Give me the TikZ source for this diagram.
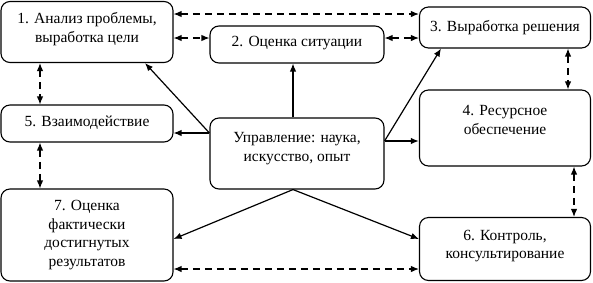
\documentclass[tikz,border=0pt]{standalone}
\usepackage{fontspec}
\setmainfont{Liberation Serif}
\usetikzlibrary{arrows.meta}
\begin{document}
\begin{tikzpicture}[x=1pt,y=-1pt,
  box/.style={draw, line width=1.1pt, rounded corners=9pt, inner sep=0pt},
  txt/.style={inner sep=0pt, align=center, font=\fontsize{15.5}{18.5}\selectfont},
  solidarr/.style={line width=1.2pt, -{Latex[length=8pt,width=6.5pt]}},
  dasharr/.style={line width=1.2pt, dash pattern=on 7pt off 5pt, {Latex[length=8pt,width=6.5pt]}-{Latex[length=8pt,width=6.5pt]}}]
\useasboundingbox (0,0) rectangle (593,282);
\node[box, minimum width=172pt, minimum height=61pt] (b1) at (87,32) {};
\node[txt] (t1) at ([yshift=3pt]b1.center) {1. Анализ проблемы,\\выработка цели};
\node[box, minimum width=174pt, minimum height=37pt] (b2) at (297,44.5) {};
\node[txt] (t2) at ([yshift=1pt]b2.center) {2. Оценка ситуации};
\node[box, minimum width=171pt, minimum height=41pt] (b3) at (505,27.5) {};
\node[txt] (t3) at (b3.center) {3. Выработка решения};
\node[box, minimum width=171pt, minimum height=76pt] (b4) at (505,128) {};
\node[txt] (t4) at ([yshift=8pt]b4.center) {4. Ресурсное\\обеспечение};
\node[box, minimum width=172pt, minimum height=37pt] (b5) at (87,123.5) {};
\node[txt] (t5) at ([yshift=1pt]b5.center) {5. Взаимодействие};
\node[box, minimum width=174pt, minimum height=71pt] (c) at (297,153.5) {};
\node[txt] (tc) at ([yshift=5pt]c.center) {Управление: наука,\\искусство, опыт};
\node[box, minimum width=172pt, minimum height=92pt] (b7) at (87,235) {};
\node[txt] (t7) at (b7.center) {7. Оценка\\фактически\\достигнутых\\результатов};
\node[box, minimum width=171pt, minimum height=63pt] (b6) at (505,249) {};
\node[txt] (t6) at ([yshift=3pt]b6.center) {6. Контроль,\\консультирование};
% dashed links
\draw[dasharr] (b1.east |- 0,14) -- (b3.west |- 0,14);
\draw[dasharr] (b1.east |- 0,38) -- (b2.west |- 0,38);
\draw[dasharr] (b2.east |- 0,38) -- (b3.west |- 0,38);
\draw[dasharr] (b1.south -| 40,0) -- (b5.north -| 40,0);
\draw[dasharr] (b5.south -| 40,0) -- (b7.north -| 40,0);
\draw[dasharr] (b3.south -| 568,0) -- (b4.north -| 568,0);
\draw[dasharr] (b4.south -| 574,0) -- (b6.north -| 574,0);
\draw[dasharr] (b7.east |- 0,269) -- (b6.west |- 0,269);
% solid arrows
\coordinate (cw) at (c.west |- 0,133);
\coordinate (ce) at (c.east |- 0,141);
\coordinate (cb) at (c.south -| 293,0);
\draw[solidarr] (cw) -- (b1.south -| 145,0);
\draw[solidarr] (cw) -- (b5.east |- 0,133);
\draw[solidarr] (c.north -| 293,0) -- (b2.south -| 293,0);
\draw[solidarr] (ce) -- (b3.south -| 441,0);
\draw[solidarr, line width=1.7pt] (ce) -- (b4.west |- 0,141);
\draw[solidarr] (cb) -- (b7.east |- 0,239);
\draw[solidarr] (cb) -- (b6.west |- 0,239);
\end{tikzpicture}
\end{document}
